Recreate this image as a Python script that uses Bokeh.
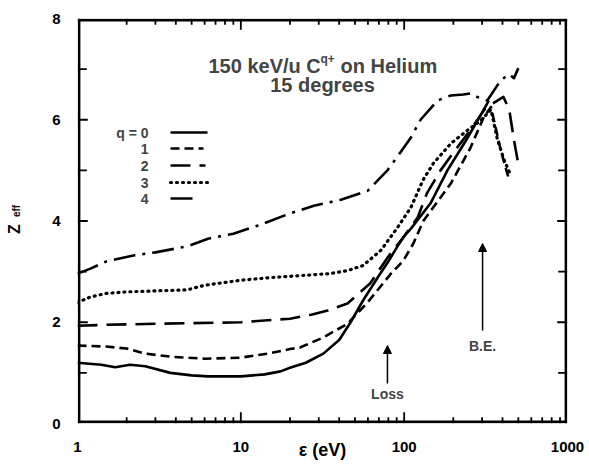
import math
from bokeh.plotting import figure
from bokeh.models import LinearAxis, FixedTicker, Label, Arrow, NormalHead, Range1d
from bokeh.embed import file_html
from bokeh.resources import INLINE

FONT = "Liberation Sans"

# ---- data ----
E_q0 = [1, 1.4, 1.7, 2.1, 2.6, 3.7, 5, 6.3, 10, 14, 17.5, 20, 25, 32, 40, 47, 56, 69, 80, 91, 100, 110, 145, 184, 240, 295, 330]
Z_q0 = [1.2, 1.16, 1.11, 1.16, 1.13, 1.0, 0.95, 0.93, 0.93, 0.97, 1.03, 1.1, 1.2, 1.38, 1.65, 2.0, 2.43, 2.89, 3.2, 3.5, 3.7, 3.85, 4.35, 5.0, 5.6, 6.1, 6.38]

E_q1 = [1, 1.5, 2, 2.6, 3.7, 6, 10, 14.6, 20, 23, 32, 45, 60, 83, 99, 114, 131, 193, 255, 307, 340, 390, 440]
Z_q1 = [1.54, 1.52, 1.48, 1.38, 1.32, 1.28, 1.3, 1.38, 1.47, 1.5, 1.7, 1.97, 2.4, 2.96, 3.22, 3.56, 4.0, 4.74, 5.45, 6.05, 6.25, 5.4, 4.8]

E_q2 = [1, 1.5, 3, 10, 20, 27, 34, 45, 62, 80, 100, 121, 138, 167, 200, 255, 310, 360, 405, 440, 470, 495]
Z_q2 = [1.93, 1.95, 1.97, 2.0, 2.07, 2.15, 2.23, 2.37, 2.77, 3.3, 3.7, 4.07, 4.55, 5.0, 5.35, 5.8, 6.2, 6.35, 6.45, 6.2, 5.6, 5.2]

E_q3 = [1, 1.2, 1.5, 2, 3, 4.7, 6, 10, 15, 23, 35, 45, 56, 72, 91, 110, 130, 151, 193, 244, 295, 340, 373, 410, 450]
Z_q3 = [2.39, 2.5, 2.57, 2.6, 2.62, 2.64, 2.73, 2.83, 2.88, 2.92, 2.96, 3.02, 3.12, 3.42, 3.87, 4.27, 4.8, 5.14, 5.53, 5.79, 5.99, 6.2, 5.6, 5.2, 4.9]

E_q4 = [1, 1.2, 1.5, 2.2, 3, 4.7, 6.3, 9, 13, 20, 28, 41, 60, 79, 95, 110, 126, 160, 193, 230, 255, 280, 323, 390, 440, 470, 500]
Z_q4 = [2.96, 3.06, 3.2, 3.32, 3.38, 3.5, 3.65, 3.75, 3.92, 4.15, 4.3, 4.42, 4.6, 5.0, 5.36, 5.65, 6.0, 6.38, 6.48, 6.5, 6.52, 6.45, 6.38, 6.78, 6.9, 6.82, 7.02]

x_ticks = [1, 10, 100, 1000]
x_tick_labels = ["1", "10", "100", "1000"]
x_minor = [2, 3, 4, 5, 6, 7, 8, 9, 20, 30, 40, 50, 60, 70, 80, 90, 200, 300, 400, 500, 600, 700, 800, 900]
y_ticks = [0, 2, 4, 6, 8]
y_tick_labels = ["0", "2", "4", "6", "8"]
y_minor = [1, 3, 5, 7]
legend_labels = ["q = 0", "1", "2", "3", "4"]
loss_energy = 79      # eV, "Loss" arrow
binding_energy = 302  # eV, "B.E." arrow

series = [
    (E_q0, Z_q0, "solid", 2.6, "butt"),
    (E_q1, Z_q1, "9 5", 2.6, "butt"),
    (E_q2, Z_q2, "20 9", 2.6, "butt"),
    (E_q3, Z_q3, "1 5", 3.2, "round"),
    (E_q4, Z_q4, "22 7 3 7", 2.6, "butt"),
]

FL, FR, FT, FB = 77, 567, 18, 423
W, H = 589, 469
XMIN, XMAX, YMIN, YMAX = 1, 1000, 0, 8
PX_PER_DEC = (FR - FL) / 3.0
PX_PER_UNIT = (FB - FT) / 8.0

def px_x(px):
    return 10 ** ((px - FL) / PX_PER_DEC)

def px_y(py):
    return (FB - py) / PX_PER_UNIT

p = figure(width=W, height=H, x_axis_type="log",
           x_range=Range1d(XMIN, XMAX), y_range=Range1d(YMIN, YMAX),
           output_backend="svg", toolbar_location=None,
           min_border_left=FL, min_border_right=W - FR,
           min_border_top=FT, min_border_bottom=H - FB)
p.xgrid.visible = False
p.ygrid.visible = False
p.outline_line_color = None

def plain_axis(ax):
    ax.axis_line_color = None
    ax.major_tick_line_color = None
    ax.minor_tick_line_color = None
    ax.major_label_text_font = FONT
    ax.major_label_text_font_style = "bold"
    ax.major_label_text_font_size = "15px"
    ax.major_label_text_color = "black"
    ax.axis_label_text_font = FONT
    ax.axis_label_text_font_style = "bold"
    ax.axis_label_text_color = "black"

xa = p.xaxis[0]
xa.ticker = FixedTicker(ticks=x_ticks, minor_ticks=x_minor)
xa.major_label_overrides = {t: l for t, l in zip(x_ticks, x_tick_labels)}
plain_axis(xa)
xa.major_tick_out = 0
xa.major_label_standoff = 14
xa.axis_label = "ε (eV)"
xa.axis_label_text_font_size = "18px"
xa.axis_label_standoff = -15

ya = p.yaxis[0]
ya.ticker = FixedTicker(ticks=y_ticks, minor_ticks=y_minor)
ya.major_label_overrides = {t: l for t, l in zip(y_ticks, y_tick_labels)}
plain_axis(ya)
ya.major_tick_out = 0
ya.major_label_standoff = 13
ya.axis_label = "\u2003\u2003eff"
ya.axis_label_text_font_size = "10px"
ya.axis_label_standoff = 27

za = LinearAxis(ticker=FixedTicker(ticks=[], minor_ticks=[]))
plain_axis(za)
za.major_tick_out = 0
za.major_tick_in = 0
za.axis_label = "Z\u2003"
za.axis_label_text_font_size = "16px"
za.axis_label_standoff = -14
p.add_layout(za, "left")

# ---- frame and inward ticks as thin filled bars (pixel geometry -> data) ----
EPS = 0.3     # keep a hair inside the plotting area
FW = 2.6      # frame thickness, px
TW = 1.8      # tick thickness, px
bars_l, bars_r, bars_b, bars_t = [], [], [], []

def bar_px(x0, x1, y0, y1):
    bars_l.append(px_x(min(x0, x1)))
    bars_r.append(px_x(max(x0, x1)))
    bars_b.append(px_y(max(y0, y1)))
    bars_t.append(px_y(min(y0, y1)))

# frame
bar_px(FL + EPS, FR - EPS, FB - EPS - FW, FB - EPS)
bar_px(FL + EPS, FR - EPS, FT + EPS, FT + EPS + FW)
bar_px(FL + EPS, FL + EPS + FW, FT + EPS, FB - EPS)
bar_px(FR - EPS - FW, FR - EPS, FT + EPS, FB - EPS)

def x_to_px(v):
    return FL + math.log10(v) * PX_PER_DEC

def y_to_px(v):
    return FB - v * PX_PER_UNIT

for vals, length in [(x_ticks[1:-1], 11), (x_minor, 6)]:
    for v in vals:
        c = x_to_px(v)
        bar_px(c - TW / 2, c + TW / 2, FB - EPS - length, FB - EPS)
        bar_px(c - TW / 2, c + TW / 2, FT + EPS, FT + EPS + length)

for vals, length in [(y_ticks[1:-1], 10), (y_minor, 9)]:
    for v in vals:
        c = y_to_px(v)
        bar_px(FL + EPS, FL + EPS + length, c - TW / 2, c + TW / 2)
        bar_px(FR - EPS - length, FR - EPS, c - TW / 2, c + TW / 2)

p.quad(left=bars_l, right=bars_r, bottom=bars_b, top=bars_t,
       fill_color="black", line_color=None)

for E, Z, dash, lw, cap in series:
    p.line(E, Z, line_color="black", line_width=lw, line_dash=dash, line_cap=cap, line_join="round")

# legend (label left, line sample right)
leg_rows = [132, 148, 165, 182, 198]
leg_ends = [207, 203, 205, 207, 197]
for (E, Z, dash, lw, cap), lab, row, xe in zip(series, legend_labels, leg_rows, leg_ends):
    p.add_layout(Label(x=px_x(148), y=px_y(row), text=lab, text_font=FONT, text_font_style="bold",
                       text_font_size="14px", text_align="right", text_baseline="middle"))
    p.add_layout(Arrow(x_start=px_x(170), y_start=px_y(row), x_end=px_x(xe), y_end=px_y(row),
                       start=None, end=None, line_width=lw, line_dash=dash, line_cap=cap))

# title
tsize = 20
ty1, ty2 = 65, 84
p.add_layout(Label(x=px_x(208), y=px_y(ty1), text="150 keV/u C", text_font=FONT, text_font_style="bold",
                   text_font_size=f"{tsize}px", text_align="left", text_baseline="middle"))
p.add_layout(Label(x=px_x(208), y=px_y(ty1), x_offset=112, y_offset=7, text="q+", text_font=FONT,
                   text_font_style="bold", text_font_size="12px", text_align="left", text_baseline="middle"))
p.add_layout(Label(x=px_x(208), y=px_y(ty1), x_offset=132, text="on Helium", text_font=FONT,
                   text_font_style="bold", text_font_size=f"{tsize}px", text_align="left", text_baseline="middle"))
p.add_layout(Label(x=px_x(322), y=px_y(ty2), text="15 degrees", text_font=FONT, text_font_style="bold",
                   text_font_size=f"{tsize}px", text_align="center", text_baseline="middle"))

# arrows
for xe, y0, y1, txt, ty in [(loss_energy, px_y(383), px_y(345), "Loss", px_y(393)),
                            (binding_energy, px_y(330), px_y(243), "B.E.", px_y(345))]:
    p.add_layout(Arrow(x_start=xe, y_start=y0, x_end=xe, y_end=y1, line_width=1.5,
                       end=NormalHead(size=8, fill_color="black", line_color="black", line_width=1)))
    p.add_layout(Label(x=xe, y=ty, text=txt, text_font=FONT, text_font_style="bold",
                       text_font_size="14px", text_align="center", text_baseline="middle"))

open("out.html", "w").write(file_html(p, INLINE))
